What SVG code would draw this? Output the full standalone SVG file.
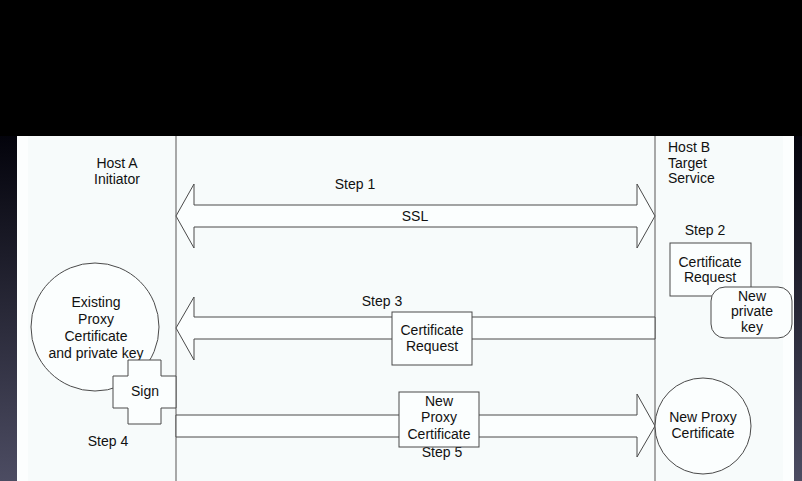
<svg xmlns="http://www.w3.org/2000/svg" width="802" height="481" viewBox="0 0 802 481">
  <defs>
    <linearGradient id="bg" x1="0" y1="0" x2="0" y2="481" gradientUnits="userSpaceOnUse">
      <stop offset="0" stop-color="#000000"/>
      <stop offset="0.27" stop-color="#02020a"/>
      <stop offset="1" stop-color="#4c4c62"/>
    </linearGradient>
  </defs>
  <style>
    text { font-family: "Liberation Sans", Arial, sans-serif; font-size: 14px; fill: #111111; }
    .c { text-anchor: middle; }
    .shape { fill: #fbfefe; stroke: #4a4a4a; stroke-width: 1; }
    .lane { stroke: #8c8c8c; stroke-width: 1.5; fill: none; }
  </style>
  <rect x="0" y="0" width="802" height="481" fill="url(#bg)"/>
  <rect x="0" y="0" width="802" height="136" fill="#000000"/>
  <rect x="17" y="136" width="777" height="345" fill="#fcfefe"/>
  <rect x="28" y="136" width="755" height="345" fill="#f7fbfb"/>

  <g id="lanes">
    <line class="lane" x1="176" y1="136" x2="176" y2="481"/>
    <line class="lane" x1="655" y1="136" x2="655" y2="481"/>
  </g>

  <g id="hostA">
    <text class="c" x="117" y="168">Host A</text>
    <text class="c" x="117" y="184">Initiator</text>
  </g>
  <g id="hostB">
    <text x="668" y="152">Host B</text>
    <text x="668" y="168">Target</text>
    <text x="668" y="183">Service</text>
  </g>

  <g id="connectors">
    <g id="step1">
      <polygon class="shape" points="176,216 194,184 194,205 637,205 637,184 655,216 637,248 637,227 194,227 194,248"/>
      <text class="c" x="355" y="189">Step 1</text>
      <text class="c" x="415" y="221">SSL</text>
    </g>
    <g id="step3">
      <polygon class="shape" points="176,328 194,297 194,317 655,317 655,339 194,339 194,360"/>
      <text class="c" x="382" y="306">Step 3</text>
    </g>
    <g id="step5">
      <polygon class="shape" points="176,415 637,415 637,394 655,426 637,457 637,437 176,437"/>
      <text class="c" x="442" y="457">Step 5</text>
    </g>
  </g>

  <g id="existing-cert">
    <circle class="shape" cx="95" cy="327" r="64"/>
    <text class="c" x="96" y="307">Existing</text>
    <text class="c" x="96" y="324">Proxy</text>
    <text class="c" x="96" y="341">Certificate</text>
    <text class="c" x="96" y="358">and private key</text>
  </g>

  <g id="sign">
    <polygon class="shape" points="128,360 161,360 161,376 176,376 176,408 161,408 161,424 128,424 128,408 113,408 113,376 128,376"/>
    <text class="c" x="145" y="396">Sign</text>
  </g>
  <text x="108" y="446" class="c">Step 4</text>

  <g id="cert-request-msg">
    <rect class="shape" x="392" y="312" width="80" height="53"/>
    <text class="c" x="432" y="335">Certificate</text>
    <text class="c" x="432" y="351">Request</text>
  </g>

  <g id="new-proxy-msg">
    <rect class="shape" x="399" y="392" width="80" height="55"/>
    <text class="c" x="439" y="406">New</text>
    <text class="c" x="439" y="422">Proxy</text>
    <text class="c" x="439" y="439">Certificate</text>
  </g>

  <text class="c" x="705" y="235">Step 2</text>
  <g id="cert-request-b">
    <rect class="shape" x="670" y="243" width="81" height="53"/>
    <text class="c" x="710" y="267">Certificate</text>
    <text class="c" x="710" y="282">Request</text>
  </g>
  <g id="new-private-key">
    <rect class="shape" x="711" y="287" width="81" height="51" rx="14" ry="14"/>
    <text class="c" x="752" y="301">New</text>
    <text class="c" x="752" y="316">private</text>
    <text class="c" x="752" y="332">key</text>
  </g>

  <g id="new-proxy-cert">
    <circle class="shape" cx="703" cy="426" r="48"/>
    <text class="c" x="703" y="422">New Proxy</text>
    <text class="c" x="703" y="438">Certificate</text>
  </g>
</svg>
